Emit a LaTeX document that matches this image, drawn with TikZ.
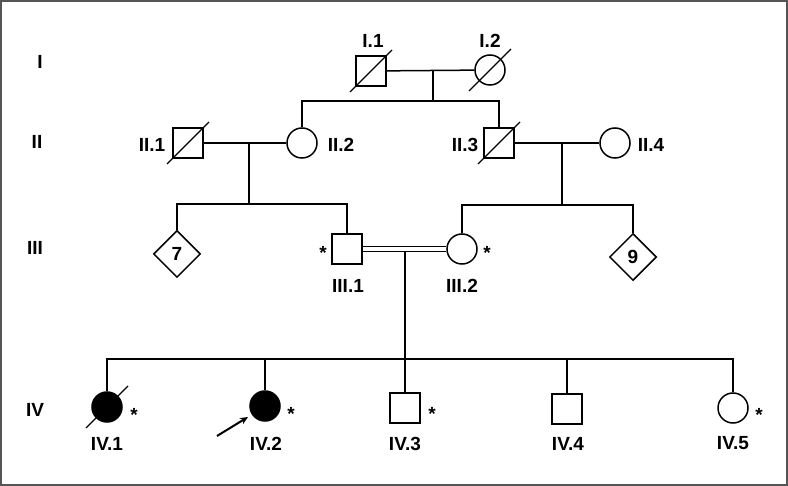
\documentclass[tikz,border=0pt]{standalone}
\usepackage{fontspec}
\setmainfont{Liberation Sans}
\usetikzlibrary{arrows.meta, positioning, shapes.geometric, calc}
\definecolor{cframe}{HTML}{555555}
\tikzset{
  every picture/.style={font=\bfseries\fontsize{19}{21}\selectfont, line width=1.5pt},
  male/.style={draw, rectangle, minimum size=30pt, inner sep=0pt},
  female/.style={draw, circle, minimum size=30pt, inner sep=0pt},
  unknownsex/.style={draw, diamond, minimum size=47pt, inner sep=0pt},
  affected/.style={fill=black},
  tag/.style={inner sep=0pt},
  astk/.style={inner sep=0pt},
  proband/.style={-{Stealth[length=8pt, width=7pt]}, line width=2pt},
}
\newcommand{\deceased}[1]{\draw[line width=1.2pt] ($(#1.center)+(-21,21)$) -- ($(#1.center)+(21,-21)$);}

\begin{document}
\begin{tikzpicture}[x=1pt, y=-1pt]
  \useasboundingbox (0,0) rectangle (788,486);
  \draw[cframe, line width=2pt] (1,1) rectangle (787,485);

  % generation numbers
  \node[tag] (gI)   at (40,62)  {I};
  \node[tag] (gII)  at (37,142) {II};
  \node[tag] (gIII) at (35,248) {III};
  \node[tag] (gIV)  at (35,410) {IV};

  % generation I
  \node[male]   (I1) at (371,71) {};
  \node[female] (I2) at (490,70) {};
  \deceased{I1}
  \deceased{I2}
  \node[tag] at (373,41) {I.1};
  \node[tag] at (490,41) {I.2};
  \draw (I1) -- (I2);

  % generation II
  \node[male]   (II1) at (188,143) {};
  \node[female] (II2) at (302,143) {};
  \node[male]   (II3) at (499,143) {};
  \node[female] (II4) at (615,143) {};
  \deceased{II1}
  \deceased{II3}
  \node[tag] at (152,145) {II.1};
  \node[tag] at (341,145) {II.2};
  \node[tag] at (465,145) {II.3};
  \node[tag] at (651,145) {II.4};
  \coordinate (m1) at (433,70);
  \coordinate (s1) at (433,101);
  \draw (m1) -- (s1);
  \draw (II2.north) |- (s1) -| (II3.north);
  \draw (II1) -- (II2);
  \draw (II3) -- (II4);

  % generation III
  \node[unknownsex] (D7)   at (177,254) {7};
  \node[male]       (III1) at (347,249) {};
  \node[female]     (III2) at (462,249) {};
  \node[unknownsex] (D9)   at (633,257) {9};
  \node[astk] at (323,253) {*};
  \node[astk] at (487,253) {*};
  \node[tag] at (348,286) {III.1};
  \node[tag] at (462,286) {III.2};
  \coordinate (m2) at (249,143);
  \coordinate (s2) at (249,204);
  \draw (m2) -- (s2);
  \draw (D7.north) |- (s2) -| (III1.north);
  \coordinate (m3) at (562,143);
  \coordinate (s3) at (562,205);
  \draw (m3) -- (s3);
  \draw (III2.north) |- (s3) -| (D9.north);
  \draw[double, double distance=3.8pt] (III1) -- (III2);

  % generation IV
  \node[female, affected] (IV1) at (107,407) {};
  \node[female, affected] (IV2) at (265,406) {};
  \node[male]             (IV3) at (405,408) {};
  \node[male]             (IV4) at (567,409) {};
  \node[female]           (IV5) at (733,408) {};
  \deceased{IV1}
  \node[astk] at (134,415) {*};
  \node[astk] at (291,414) {*};
  \node[astk] at (432,414) {*};
  \node[astk] at (759,415) {*};
  \node[tag] at (107,443.5) {IV.1};
  \node[tag] at (266,443.5) {IV.2};
  \node[tag] at (405,443.5) {IV.3};
  \node[tag] at (568,443.5) {IV.4};
  \node[tag] at (733,443.5) {IV.5};
  \coordinate (m4) at (405,252.5);
  \coordinate (s4) at (405,359);
  \draw (m4) -- (IV3.north);
  \draw (IV1.north) |- (s4) -| (IV5.north);
  \draw (IV2.north) -- (IV2.north |- s4);
  \draw (IV4.north) -- (IV4.north |- s4);
  \coordinate (pb) at (217,436);
  \draw[proband] (pb) -- ($(IV2.center)+(-17,11)$);
\end{tikzpicture}
\end{document}
